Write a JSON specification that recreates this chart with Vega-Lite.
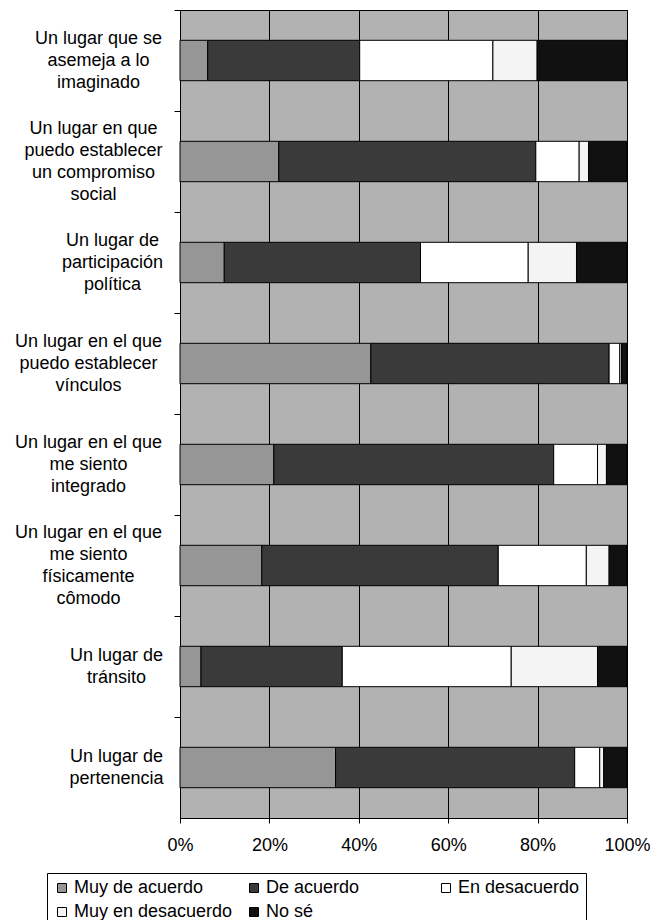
{
  "$schema": "https://vega.github.io/schema/vega-lite/v6.json",
  "width": 447,
  "height": 808,
  "autosize": {"type": "none"},
  "padding": {"left": 180, "top": 10, "right": 24, "bottom": 102},
  "background": "white",
  "config": {
    "view": {"fill": "#b2b2b2", "stroke": "black", "strokeWidth": 1},
    "font": "Liberation Sans",
    "axis": {
      "labelFont": "Liberation Sans",
      "labelFontSize": 18,
      "labelColor": "black",
      "domainColor": "black",
      "tickColor": "black",
      "gridColor": "black",
      "gridOpacity": 1,
      "domainWidth": 1,
      "tickWidth": 1
    }
  },
  "data": {
    "values": [
      {"lugar": "Un lugar que se|asemeja a lo|imaginado", "resp": "Muy de acuerdo", "pct": 6.2, "k": 1},
      {"lugar": "Un lugar que se|asemeja a lo|imaginado", "resp": "De acuerdo", "pct": 34.0, "k": 2},
      {"lugar": "Un lugar que se|asemeja a lo|imaginado", "resp": "En desacuerdo", "pct": 29.8, "k": 3},
      {"lugar": "Un lugar que se|asemeja a lo|imaginado", "resp": "Muy en desacuerdo", "pct": 9.9, "k": 4},
      {"lugar": "Un lugar que se|asemeja a lo|imaginado", "resp": "No sé", "pct": 20.1, "k": 5},
      {"lugar": "Un lugar en que|puedo establecer|un compromiso|social", "resp": "Muy de acuerdo", "pct": 22.1, "k": 1},
      {"lugar": "Un lugar en que|puedo establecer|un compromiso|social", "resp": "De acuerdo", "pct": 57.5, "k": 2},
      {"lugar": "Un lugar en que|puedo establecer|un compromiso|social", "resp": "En desacuerdo", "pct": 9.7, "k": 3},
      {"lugar": "Un lugar en que|puedo establecer|un compromiso|social", "resp": "Muy en desacuerdo", "pct": 2.1, "k": 4},
      {"lugar": "Un lugar en que|puedo establecer|un compromiso|social", "resp": "No sé", "pct": 8.6, "k": 5},
      {"lugar": "Un lugar de|participación|política", "resp": "Muy de acuerdo", "pct": 9.9, "k": 1},
      {"lugar": "Un lugar de|participación|política", "resp": "De acuerdo", "pct": 43.9, "k": 2},
      {"lugar": "Un lugar de|participación|política", "resp": "En desacuerdo", "pct": 24.1, "k": 3},
      {"lugar": "Un lugar de|participación|política", "resp": "Muy en desacuerdo", "pct": 10.8, "k": 4},
      {"lugar": "Un lugar de|participación|política", "resp": "No sé", "pct": 11.3, "k": 5},
      {"lugar": "Un lugar en el que|puedo establecer|vínculos", "resp": "Muy de acuerdo", "pct": 42.7, "k": 1},
      {"lugar": "Un lugar en el que|puedo establecer|vínculos", "resp": "De acuerdo", "pct": 53.3, "k": 2},
      {"lugar": "Un lugar en el que|puedo establecer|vínculos", "resp": "En desacuerdo", "pct": 2.4, "k": 3},
      {"lugar": "Un lugar en el que|puedo establecer|vínculos", "resp": "Muy en desacuerdo", "pct": 0.4, "k": 4},
      {"lugar": "Un lugar en el que|puedo establecer|vínculos", "resp": "No sé", "pct": 1.2, "k": 5},
      {"lugar": "Un lugar en el que|me siento|integrado", "resp": "Muy de acuerdo", "pct": 21.0, "k": 1},
      {"lugar": "Un lugar en el que|me siento|integrado", "resp": "De acuerdo", "pct": 62.6, "k": 2},
      {"lugar": "Un lugar en el que|me siento|integrado", "resp": "En desacuerdo", "pct": 9.8, "k": 3},
      {"lugar": "Un lugar en el que|me siento|integrado", "resp": "Muy en desacuerdo", "pct": 2.0, "k": 4},
      {"lugar": "Un lugar en el que|me siento|integrado", "resp": "No sé", "pct": 4.6, "k": 5},
      {"lugar": "Un lugar en el que|me siento|físicamente|cômodo", "resp": "Muy de acuerdo", "pct": 18.3, "k": 1},
      {"lugar": "Un lugar en el que|me siento|físicamente|cômodo", "resp": "De acuerdo", "pct": 52.9, "k": 2},
      {"lugar": "Un lugar en el que|me siento|físicamente|cômodo", "resp": "En desacuerdo", "pct": 19.7, "k": 3},
      {"lugar": "Un lugar en el que|me siento|físicamente|cômodo", "resp": "Muy en desacuerdo", "pct": 5.1, "k": 4},
      {"lugar": "Un lugar en el que|me siento|físicamente|cômodo", "resp": "No sé", "pct": 4.0, "k": 5},
      {"lugar": "Un lugar de|tránsito", "resp": "Muy de acuerdo", "pct": 4.7, "k": 1},
      {"lugar": "Un lugar de|tránsito", "resp": "De acuerdo", "pct": 31.6, "k": 2},
      {"lugar": "Un lugar de|tránsito", "resp": "En desacuerdo", "pct": 37.8, "k": 3},
      {"lugar": "Un lugar de|tránsito", "resp": "Muy en desacuerdo", "pct": 19.3, "k": 4},
      {"lugar": "Un lugar de|tránsito", "resp": "No sé", "pct": 6.6, "k": 5},
      {"lugar": "Un lugar de|pertenencia", "resp": "Muy de acuerdo", "pct": 34.8, "k": 1},
      {"lugar": "Un lugar de|pertenencia", "resp": "De acuerdo", "pct": 53.5, "k": 2},
      {"lugar": "Un lugar de|pertenencia", "resp": "En desacuerdo", "pct": 5.6, "k": 3},
      {"lugar": "Un lugar de|pertenencia", "resp": "Muy en desacuerdo", "pct": 0.9, "k": 4},
      {"lugar": "Un lugar de|pertenencia", "resp": "No sé", "pct": 5.2, "k": 5}
    ]
  },
  "mark": {"type": "bar", "stroke": "black", "strokeWidth": 1},
  "encoding": {
    "y": {
      "field": "lugar",
      "type": "nominal",
      "sort": null,
      "scale": {"paddingInner": 0.6, "paddingOuter": 0.3},
      "axis": {
        "title": null,
        "labelExpr": "split(datum.label, '|')",
        "labelAlign": "center",
        "labelBaseline": "middle",
        "labelLineHeight": 22,
        "labelPadding": {"expr": "(datum && datum.value) ? (indexof(datum.value,'Un lugar en el que')==0 ? 86 : indexof(datum.value,'Un lugar que se')==0 ? 76 : indexof(datum.value,'Un lugar en que')==0 ? 81 : indexof(datum.value,'participación')>0 ? 62 : 58) : 60"},
        "labelOffset": {"expr": "(datum && datum.value) ? (50.5 - 11 * (length(split(datum.value, '|')) - 1)) : 50.5"},
        "labelLimit": 0,
        "tickSize": 6,
        "tickOffset": -50.5,
        "grid": false
      }
    },
    "x": {
      "field": "pct",
      "type": "quantitative",
      "stack": "normalize",
      "scale": {"domain": [0, 1]},
      "axis": {
        "title": null,
        "values": [0, 0.2, 0.4, 0.6, 0.8, 1],
        "format": ".0%",
        "grid": true,
        "tickSize": 5,
        "labelPadding": 13,
        "labelFlush": false,
        "labelOverlap": false
      }
    },
    "color": {
      "field": "resp",
      "type": "nominal",
      "scale": {
        "domain": ["Muy de acuerdo", "De acuerdo", "En desacuerdo", "Muy en desacuerdo", "No sé"],
        "range": ["#969696", "#3a3a3a", "#ffffff", "#f4f4f4", "#111111"]
      },
      "legend": {
        "title": null,
        "orient": "none",
        "legendX": -133,
        "legendY": 863,
        "direction": "horizontal",
        "columns": 3,
        "gridAlign": "all",
        "columnPadding": 12,
        "rowPadding": 6,
        "symbolType": "square",
        "symbolSize": 81,
        "symbolStrokeColor": "black",
        "symbolStrokeWidth": 1,
        "labelFont": "Liberation Sans",
        "labelFontSize": 18,
        "labelColor": "black",
        "labelOffset": 3,
        "labelLimit": 0,
        "strokeColor": "black",
        "padding": 6,
        "fillColor": "white"
      }
    },
    "order": {"field": "k"}
  }
}
